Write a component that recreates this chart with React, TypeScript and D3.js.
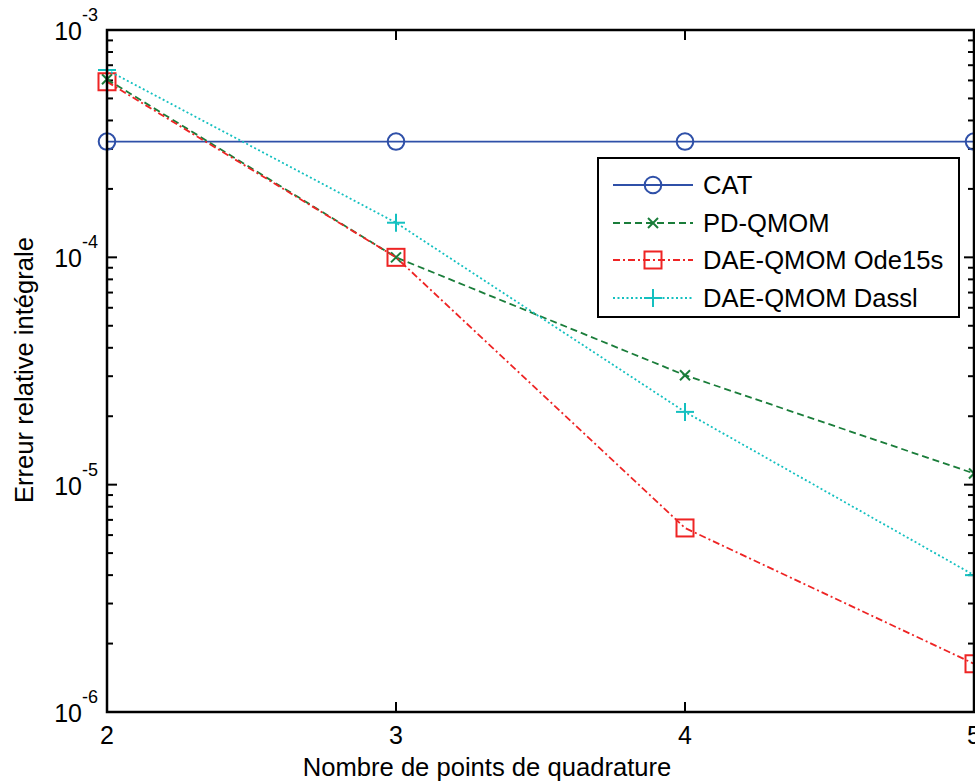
import React from "react";
import * as d3 from "d3";

const xValues = [2, 3, 4, 5];
const catValues = [3.23e-4, 3.23e-4, 3.23e-4, 3.23e-4];
const pdValues = [6.07e-4, 1.0e-4, 3.03e-5, 1.12e-5];
const odeValues = [5.92e-4, 1.0e-4, 6.45e-6, 1.63e-6];
const dasslValues = [6.67e-4, 1.42e-4, 2.09e-5, 4.0e-6];
const seriesNames = ["CAT", "PD-QMOM", "DAE-QMOM Ode15s", "DAE-QMOM Dassl"];
const xTicks = [2, 3, 4, 5];
const yExponents = [-3, -4, -5, -6];
const xLabel = "Nombre de points de quadrature";
const yLabel = "Erreur relative intégrale";

const W = 975;
const H = 784;
const L = 107, R = 974, T = 30, B = 712;
const FONT = "'Liberation Sans', Arial, sans-serif";

type Marker = "circle" | "x" | "square" | "plus";
const styles: { color: string; dash: string | undefined; marker: Marker }[] = [
  { color: "#2f50a8", dash: undefined, marker: "circle" },
  { color: "#1a7d3a", dash: "7,4", marker: "x" },
  { color: "#ee2424", dash: "7,3,2,3", marker: "square" },
  { color: "#14c0c0", dash: "2,2.5", marker: "plus" },
];

function MarkerShape({ type, x, y, color }: { type: Marker; x: number; y: number; color: string }) {
  const sw = 2;
  if (type === "circle") return <circle cx={x} cy={y} r={8.3} fill="none" stroke={color} strokeWidth={sw} />;
  if (type === "square") return <rect x={x - 8.5} y={y - 8.5} width={17} height={17} fill="none" stroke={color} strokeWidth={sw} />;
  if (type === "x")
    return (
      <g stroke={color} strokeWidth={sw}>
        <line x1={x - 5} y1={y - 5} x2={x + 5} y2={y + 5} />
        <line x1={x - 5} y1={y + 5} x2={x + 5} y2={y - 5} />
      </g>
    );
  return (
    <g stroke={color} strokeWidth={sw}>
      <line x1={x - 9} y1={y} x2={x + 9} y2={y} />
      <line x1={x} y1={y - 9} x2={x} y2={y + 9} />
    </g>
  );
}

export default function App() {
  const x = d3.scaleLinear().domain([2, 5]).range([L, R]);
  const y = d3.scaleLog().domain([1e-6, 1e-3]).range([B, T]);
  const data = [catValues, pdValues, odeValues, dasslValues];
  const line = d3
    .line<number>()
    .x((_, i) => x(xValues[i]))
    .y((d) => y(d));

  const minor: number[] = [];
  for (let e = -6; e < -3; e++) for (let k = 2; k <= 9; k++) minor.push(k * Math.pow(10, e));

  const legX = 598, legY = 158, legW = 361, legH = 159;
  const rowY = [185, 223, 260, 298];

  return (
    <svg width={W} height={H} style={{ position: "absolute", left: 0, top: 0, background: "#fff" }} fontFamily={FONT}>
      <rect x={0} y={0} width={W} height={H} fill="#fff" />
      {/* ticks */}
      <g stroke="#000" strokeWidth={2}>
        {minor.map((v, i) => (
          <g key={i}>
            <line x1={L} x2={L + 6} y1={y(v)} y2={y(v)} />
            <line x1={R} x2={R - 6} y1={y(v)} y2={y(v)} />
          </g>
        ))}
        {yExponents.map((e) => (
          <g key={e}>
            <line x1={L} x2={L + 10} y1={y(Math.pow(10, e))} y2={y(Math.pow(10, e))} />
            <line x1={R} x2={R - 10} y1={y(Math.pow(10, e))} y2={y(Math.pow(10, e))} />
          </g>
        ))}
        {xTicks.map((t) => (
          <g key={t}>
            <line x1={x(t)} x2={x(t)} y1={B} y2={B - 10} />
            <line x1={x(t)} x2={x(t)} y1={T} y2={T + 10} />
          </g>
        ))}
      </g>
      {/* series */}
      {data.map((vals, si) => (
        <g key={si}>
          <path d={line(vals) || ""} fill="none" stroke={styles[si].color} strokeWidth={1.8} strokeDasharray={styles[si].dash} />
          {vals.map((v, i) => (
            <MarkerShape key={i} type={styles[si].marker} x={x(xValues[i])} y={y(v)} color={styles[si].color} />
          ))}
        </g>
      ))}
      <rect x={L} y={T} width={R - L} height={B - T} fill="none" stroke="#000" strokeWidth={2.5} />
      {/* y tick labels */}
      {yExponents.map((e) => (
        <g key={e}>
          <text x={82} y={y(Math.pow(10, e)) + 10} fontSize={25} textAnchor="end" fill="#000">10</text>
          <text x={82} y={y(Math.pow(10, e)) - 9} fontSize={18} textAnchor="start" fill="#000">{String(e)}</text>
        </g>
      ))}
      {xTicks.map((t) => (
        <text key={t} x={x(t)} y={744} fontSize={25} textAnchor="middle" fill="#000">{t}</text>
      ))}
      <text x={487} y={776} fontSize={25.6} textAnchor="middle" fill="#000">{xLabel}</text>
      <text transform={`translate(33,503) rotate(-90)`} fontSize={25.6} textAnchor="start" fill="#000">{yLabel}</text>
      {/* legend */}
      <rect x={legX} y={legY} width={legW} height={legH} fill="#fff" stroke="#000" strokeWidth={2} />
      {seriesNames.map((name, i) => (
        <g key={name}>
          <line x1={613} x2={693} y1={rowY[i]} y2={rowY[i]} stroke={styles[i].color} strokeWidth={1.8} strokeDasharray={styles[i].dash} />
          <MarkerShape type={styles[i].marker} x={653} y={rowY[i]} color={styles[i].color} />
          <text x={703} y={rowY[i] + 9} fontSize={25.6} fill="#000">{name}</text>
        </g>
      ))}
    </svg>
  );
}
